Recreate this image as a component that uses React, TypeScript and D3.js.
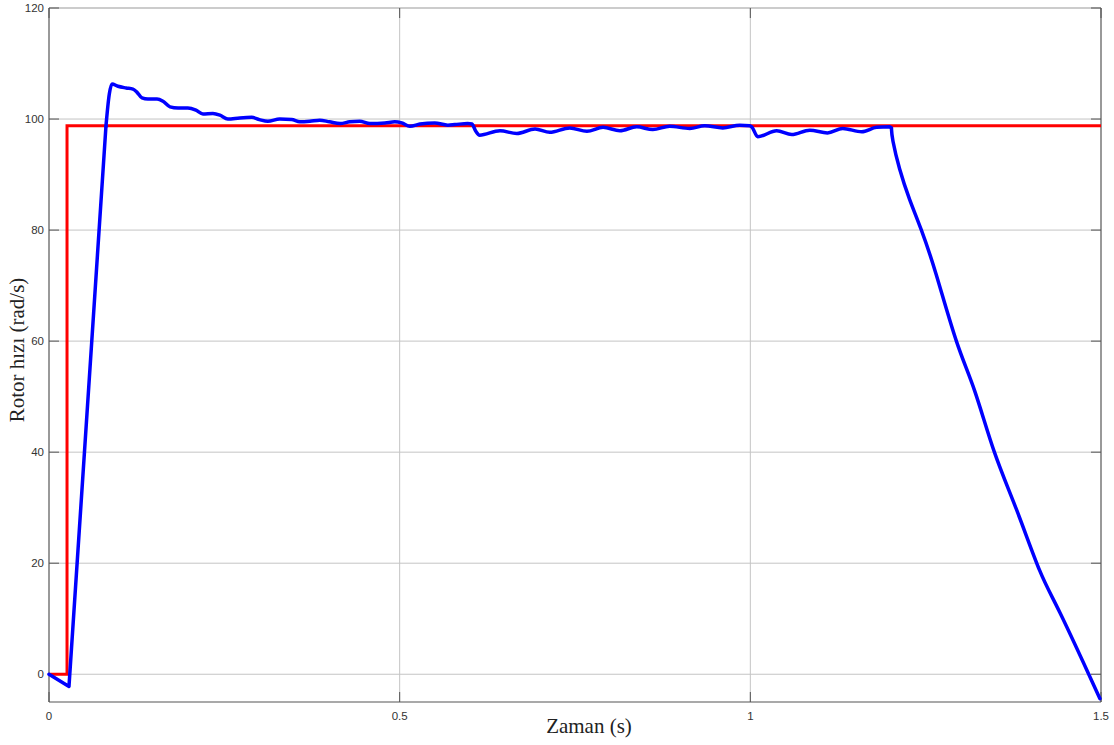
import React from "react";
import * as d3 from "d3";

// Rotor speed response (rad/s) against time (s)
const speedTime = [
  0, 0.0285, 0.0812, 0.086, 0.0898, 0.0983, 0.110, 0.1197, 0.125, 0.1326, 0.141, 0.154,
  0.1625, 0.1725, 0.184, 0.198, 0.2095, 0.2195, 0.2337, 0.2437, 0.255, 0.272, 0.289, 0.300,
  0.312, 0.329, 0.346, 0.3577, 0.372, 0.386, 0.400, 0.415, 0.429, 0.443, 0.4575, 0.479, 0.493,
  0.503, 0.5145, 0.529, 0.550, 0.5687, 0.5787, 0.597, 0.603, 0.6086, 0.614, 0.643, 0.667,
  0.693, 0.714, 0.7425, 0.767, 0.790, 0.814, 0.838, 0.861, 0.885, 0.9136, 0.935, 0.9607,
  0.985, 0.999, 1.002, 1.0106, 1.0376, 1.059, 1.0847, 1.110, 1.1317, 1.1588, 1.180, 1.1987,
  1.2011, 1.2034, 1.2129, 1.2272, 1.2439, 1.265, 1.2938, 1.32, 1.348, 1.38, 1.4125, 1.441,
  1.4825, 1.4985,
];
const speedValue = [
  0, -2.2, 98.7, 104.5, 106.3, 105.9, 105.6, 105.4, 104.9, 103.8, 103.6, 103.6,
  103.2, 102.2, 102.0, 102.0, 101.6, 100.9, 101.0, 100.7, 100.0, 100.2, 100.3, 99.9,
  99.6, 100.0, 99.9, 99.5, 99.6, 99.8, 99.5, 99.2, 99.5, 99.6, 99.2, 99.3, 99.5,
  99.3, 98.7, 99.1, 99.3, 98.9, 99.0, 99.2, 99.1, 97.8, 97.1, 97.9, 97.4,
  98.2, 97.6, 98.4, 97.8, 98.5, 97.9, 98.6, 98.1, 98.7, 98.3, 98.8, 98.4,
  98.9, 98.8, 98.6, 96.8, 97.9, 97.2, 98.0, 97.5, 98.3, 97.7, 98.5, 98.6,
  98.4, 96.0, 91.0, 85.5, 80.0, 72.0, 60.0, 51.0, 40.0, 29.5, 18.7, 11.2,
  0, -4.4,
];

// Speed reference (step command)
const refTime = [0, 0.0257, 0.0257, 1.5];
const refValue = [0, 0, 98.8, 98.8];

const xTicks = [0, 0.5, 1, 1.5];
const xTickLabels = ["0", "0.5", "1", "1.5"];
const yTicks = [0, 20, 40, 60, 80, 100, 120];

const W = 1114;
const H = 745;
const M = { left: 49, right: 1101, top: 8, bottom: 702 };

export default function App() {
  const x = d3.scaleLinear().domain([0, 1.5]).range([M.left, M.right]);
  const y = d3.scaleLinear().domain([-5, 120]).range([M.bottom, M.top]);

  const speed = speedTime.map((t, i) => [t, speedValue[i]] as [number, number]);
  const ref = refTime.map((t, i) => [t, refValue[i]] as [number, number]);

  // start-up ramp: straight segments; run: monotone; braking: natural spline
  const rampEnd = 3;
  const brakeStart = speedTime.indexOf(1.2011);
  const ramp = speed.slice(0, rampEnd);
  const run = speed.slice(rampEnd - 1, brakeStart + 1);
  const brake = speed.slice(brakeStart);

  const lineOf = (curve: d3.CurveFactory) =>
    d3
      .line<[number, number]>()
      .x((d) => x(d[0]))
      .y((d) => y(d[1]))
      .curve(curve);

  const straight = lineOf(d3.curveLinear);
  const monotone = lineOf(d3.curveMonotoneX);
  const natural = lineOf(d3.curveNatural);

  const grid = "#c4c4c4";
  const axis = "#555";
  const tickLen = 10;
  const blue = { fill: "none", stroke: "#0000ff", strokeWidth: 3.5, strokeLinejoin: "round" as const, strokeLinecap: "round" as const };

  return (
    <svg
      width={W}
      height={H}
      style={{ position: "absolute", left: 0, top: 0, background: "#fff" }}
    >
      <rect x={0} y={0} width={W} height={H} fill="#fff" />
      {/* grid */}
      {yTicks
        .filter((v) => v < 120)
        .map((v) => (
          <line key={"gy" + v} x1={M.left} x2={M.right} y1={y(v)} y2={y(v)} stroke={grid} strokeWidth={1} />
        ))}
      {xTicks
        .filter((t) => t > 0 && t < 1.5)
        .map((t) => (
          <line key={"gx" + t} x1={x(t)} x2={x(t)} y1={M.top} y2={M.bottom} stroke={grid} strokeWidth={1} />
        ))}
      {/* frame */}
      <line x1={M.left} x2={M.right} y1={M.top} y2={M.top} stroke="#999" strokeWidth={1.2} />
      <line x1={M.right} x2={M.right} y1={M.top} y2={M.bottom} stroke={axis} strokeWidth={1.2} />
      <line x1={M.left} x2={M.left} y1={M.top} y2={M.bottom} stroke={axis} strokeWidth={1.2} />
      <line x1={M.left} x2={M.right} y1={M.bottom} y2={M.bottom} stroke={axis} strokeWidth={1.2} />
      {/* inward ticks */}
      {yTicks.map((v) => (
        <g key={"ty" + v}>
          <line x1={M.left} x2={M.left + tickLen} y1={y(v)} y2={y(v)} stroke={axis} strokeWidth={1} />
          <line x1={M.right} x2={M.right - tickLen} y1={y(v)} y2={y(v)} stroke={axis} strokeWidth={1} />
        </g>
      ))}
      {xTicks.map((t) => (
        <g key={"tx" + t}>
          <line x1={x(t)} x2={x(t)} y1={M.bottom} y2={M.bottom - tickLen} stroke={axis} strokeWidth={1} />
          <line x1={x(t)} x2={x(t)} y1={M.top} y2={M.top + tickLen} stroke={axis} strokeWidth={1} />
        </g>
      ))}
      {/* tick labels */}
      {yTicks.map((v) => (
        <text
          key={"ly" + v}
          x={M.left - 5}
          y={y(v)}
          dy="0.35em"
          textAnchor="end"
          fontFamily="Liberation Sans, Arial, sans-serif"
          fontSize={11.5}
          fill="#333"
        >
          {v}
        </text>
      ))}
      {xTicks.map((t, i) => (
        <text
          key={"lx" + t}
          x={x(t)}
          y={M.bottom + 18}
          textAnchor="middle"
          fontFamily="Liberation Sans, Arial, sans-serif"
          fontSize={11.5}
          fill="#333"
        >
          {xTickLabels[i]}
        </text>
      ))}
      {/* series */}
      <path d={straight(ref) ?? ""} fill="none" stroke="#ff0000" strokeWidth={3} />
      <path d={straight(ramp) ?? ""} {...blue} />
      <path d={monotone(run) ?? ""} {...blue} />
      <path d={natural(brake) ?? ""} {...blue} />
      {/* axis titles */}
      <text
        x={589}
        y={733}
        textAnchor="middle"
        fontFamily="Liberation Serif, Times New Roman, serif"
        fontSize={21}
        fill="#222"
      >
        Zaman (s)
      </text>
      <text
        transform={`translate(24, 350) rotate(-90)`}
        textAnchor="middle"
        fontFamily="Liberation Serif, Times New Roman, serif"
        fontSize={21}
        fill="#222"
      >
        Rotor hızı (rad/s)
      </text>
    </svg>
  );
}
